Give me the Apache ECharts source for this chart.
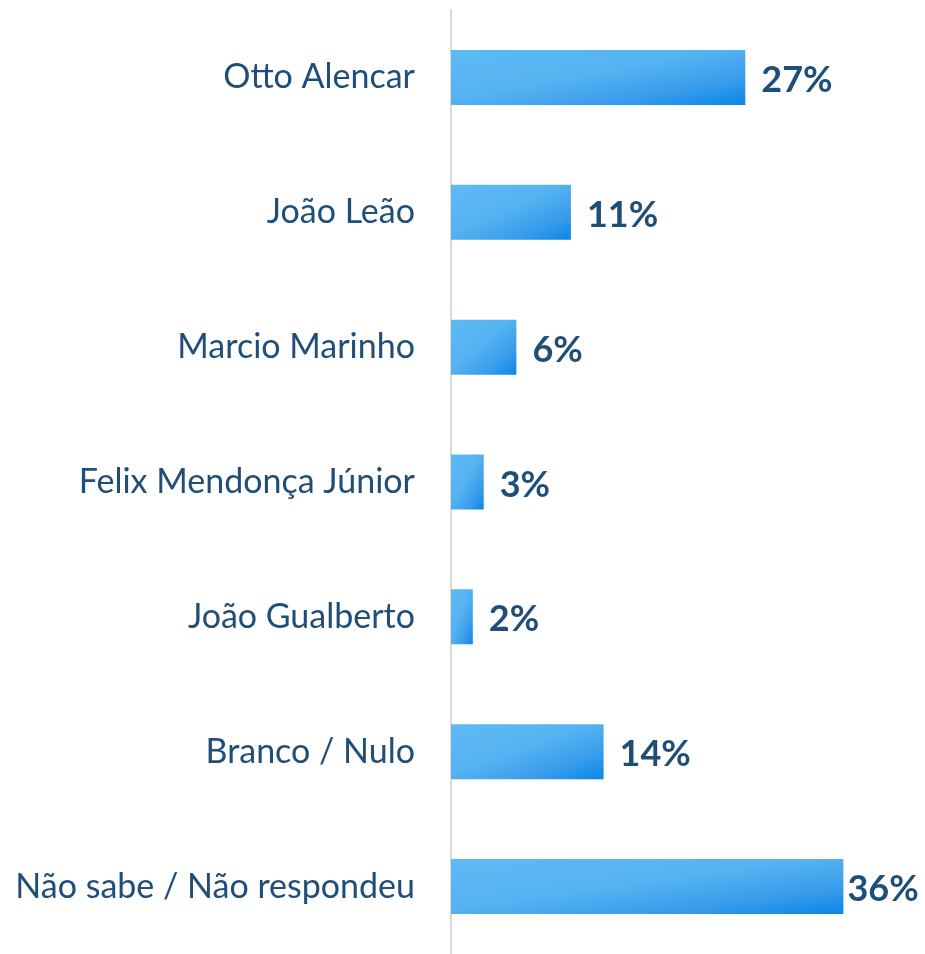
<!DOCTYPE html>
<html>
<head>
<meta charset="utf-8">
<script src="https://cdn.jsdelivr.net/npm/echarts@6/dist/echarts.min.js"></script>
<style>
  html, body { margin: 0; padding: 0; background: #fff; }
  #chart { width: 925px; height: 954px; }
</style>
</head>
<body>
<div id="chart"></div>
<script>
// categorias e valores (%)
const categories = [
  'Otto Alencar',
  'João Leão',
  'Marcio Marinho',
  'Felix Mendonça Júnior',
  'João Gualberto',
  'Branco / Nulo',
  'Não sabe / Não respondeu'
]
const values = [27, 11, 6, 3, 2, 14, 36]

const BAR_H = 55

const chart = echarts.init(document.getElementById('chart'))

const option = {
  animation: false,
  grid: {
    left: 451,
    top: 10,
    width: 436,
    height: 948
  },
  xAxis: {
    type: 'value',
    min: 0,
    max: 40,
    show: false
  },
  yAxis: {
    type: 'category',
    data: categories,
    inverse: true,
    axisLine: { show: true, lineStyle: { color: '#d9d9d9', width: 2 } },
    axisTick: { show: false },
    axisLabel: {
      margin: 36,
      color: '#1f4e79',
      fontFamily: 'Lato',
      fontSize: 34
    }
  },
  series: [{
    type: 'bar',
    data: values,
    barWidth: BAR_H,
    itemStyle: { color: '#4aa9ee' },
    label: {
      show: true,
      position: 'right',
      distance: 16,
      offset: [0, 3],
      formatter: '{c}%',
      color: '#1f4e79',
      fontFamily: 'Lato',
      fontWeight: 'bold',
      fontSize: 36
    }
  }]
}

chart.setOption(option)

// degradê na diagonal de cada barra (claro em cima/esquerda, escuro embaixo/direita)
const x0 = chart.convertToPixel({ xAxisIndex: 0 }, 0)
const styled = values.map(v => {
  const xEnd = chart.convertToPixel({ xAxisIndex: 0 }, v)
  const W = xEnd - x0
  const H = BAR_H
  const d = H * H + W * W
  const item = {
    value: v,
    itemStyle: {
      color: new echarts.graphic.LinearGradient(0, 0, 2 * H * H / d, 2 * W * W / d, [
        { offset: 0, color: '#5ebaf4' },
        { offset: 0.45, color: '#55b3f1' },
        { offset: 0.75, color: '#3a9dec' },
        { offset: 1, color: '#0886e8' }
      ])
    }
  }
  // rótulo encostado quando não cabe
  if (xEnd > 830) item.label = { distance: 4 }
  return item
})

chart.setOption({ series: [{ data: styled }] })
</script>
</body>
</html>
